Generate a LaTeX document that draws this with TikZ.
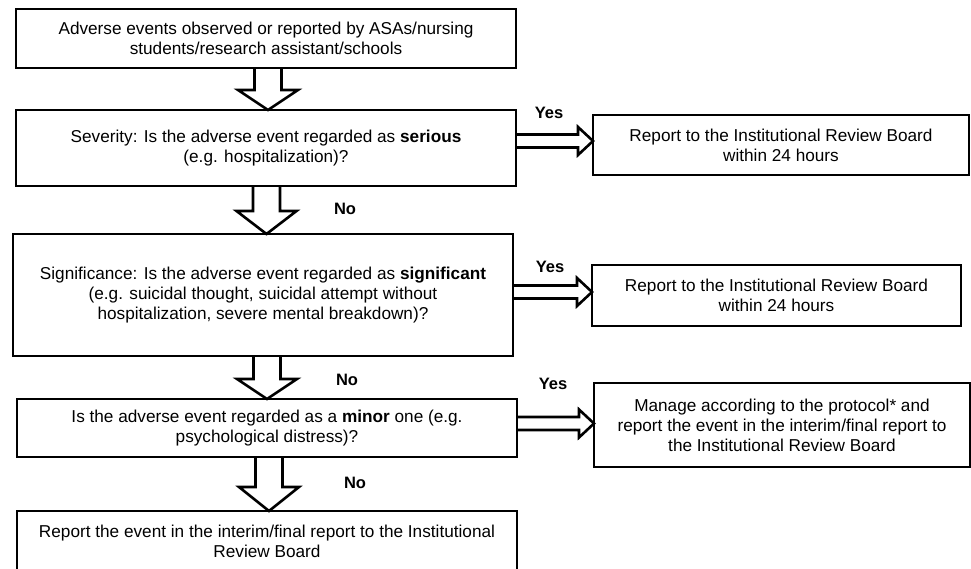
\documentclass[tikz,border=0pt]{standalone}
\usepackage{fontspec}
\setmainfont{Liberation Sans}
\usetikzlibrary{calc}
\newcommand\myDownArr[3]{\draw[hollow] let \p1=(#1.south), \p2=(#2.north), \p3=({(\x1+\x2)/2+2pt},0pt) in (\x3-13.5pt,\y1) -- (\x3-13.5pt,\y2+#3) -- (\x3-30pt,\y2+#3) -- (\x3,\y2) -- (\x3+30pt,\y2+#3) -- (\x3+13.5pt,\y2+#3) -- (\x3+13.5pt,\y1);}
\newcommand\myRightArr[3]{\draw[hollow] let \p1=($(#1.east)+(0,#3)$), \p2=(#2.west) in (\x1,\y1+6.5pt) -- (\x2-15pt,\y1+6.5pt) -- (\x2-15pt,\y1+14pt) -- (\x2,\y1) -- (\x2-15pt,\y1-14pt) -- (\x2-15pt,\y1-6.5pt) -- (\x1,\y1-6.5pt);}
\begin{document}
\begin{tikzpicture}[x=1pt,y=-1pt,
  box/.style={draw, line width=2.8pt, inner sep=0pt, outer sep=0pt, align=center,
    font=\fontsize{17.2}{20}\selectfont},
  lbl/.style={font=\bfseries\fontsize{16.5}{19}\selectfont, inner sep=0pt},
  hollow/.style={draw, line width=2.6pt, line join=miter}]
\fill[white] (0,0) rectangle (971,569);
\useasboundingbox (0,0) rectangle (971,569);

\node[box, minimum width=500, minimum height=59] (b1) at (266,38.5)
  {Adverse events observed or reported by ASAs/nursing\\students/research assistant/schools};
\node[box, minimum width=500, minimum height=76] (b2) at (266,148)
  {Severity: Is the adverse event regarded as \textbf{serious}\\(e.g. hospitalization)?};
\node[box, minimum width=500, minimum height=122] (b3) at (263,295)
  {Significance: Is the adverse event regarded as \textbf{significant}\\(e.g. suicidal thought, suicidal attempt without\\hospitalization, severe mental breakdown)?};
\node[box, minimum width=500, minimum height=58] (b4) at (267,428)
  {Is the adverse event regarded as a \textbf{minor} one (e.g.\\psychological distress)?};
\node[box, minimum width=500, minimum height=60] (b5) at (267,541)
  {Report the event in the interim/final report to the Institutional\\Review Board};

\node[box, minimum width=376, minimum height=60] (r1) at (781,145)
  {Report to the Institutional Review Board\\within 24 hours};
\node[box, minimum width=369, minimum height=61] (r2) at (776.5,295.5)
  {Report to the Institutional Review Board\\within 24 hours};
\node[box, minimum width=376, minimum height=84] (r3) at (782,425)
  {Manage according to the protocol* and\\report the event in the interim/final report to\\the Institutional Review Board};

\myDownArr{b1}{b2}{20pt}
\myDownArr{b2}{b3}{23pt}
\myDownArr{b3}{b4}{20pt}
\myDownArr{b4}{b5}{24pt}

\myRightArr{b2}{r1}{-7}
\myRightArr{b3}{r2}{-3}
\myRightArr{b4}{r3}{-4.5}

\node[lbl] (y1) at (549,113) {Yes};
\node[lbl] (y2) at (550,267) {Yes};
\node[lbl] (y3) at (553,384) {Yes};
\node[lbl] (n1) at (345,209) {No};
\node[lbl] (n2) at (347,380) {No};
\node[lbl] (n3) at (355,483) {No};
\end{tikzpicture}
\end{document}
